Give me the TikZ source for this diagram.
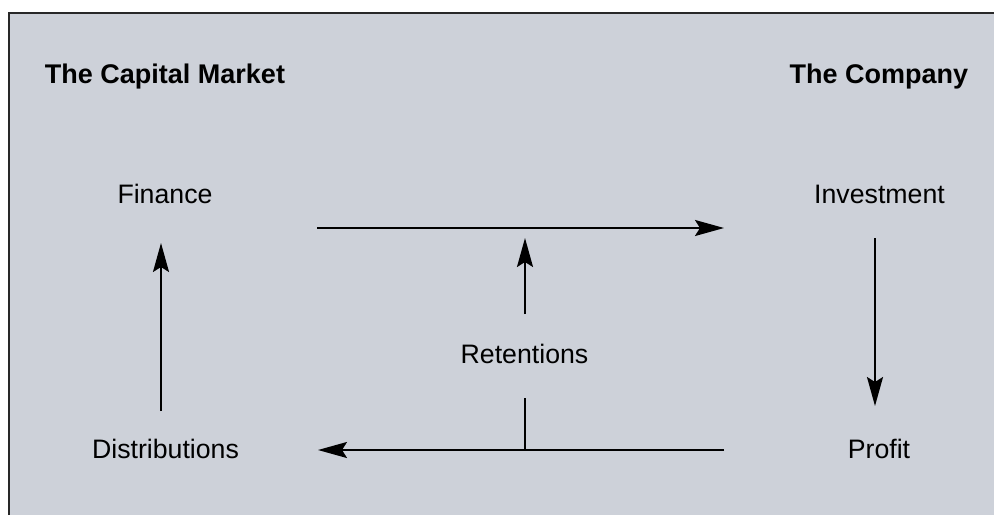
\documentclass[tikz,border=0pt]{standalone}
\usepackage{fontspec}
\setmainfont{Liberation Sans}
\usetikzlibrary{arrows.meta}
\definecolor{panel}{RGB}{205,209,217}
\definecolor{edge}{RGB}{40,40,40}
\begin{document}
\begin{tikzpicture}[x=1pt,y=-1pt,
  lbl/.style={anchor=base,inner sep=0pt,font=\fontsize{26.7}{32}\selectfont},
  head/.style={anchor=base,inner sep=0pt,font=\fontsize{27}{32}\selectfont\bfseries},
  flow/.style={line width=2pt,-{Stealth[length=29pt,width=16pt,inset=5pt]}},
  plain/.style={line width=2pt}]
\useasboundingbox (0,0) rectangle (994,515);
\fill[panel] (9,13) rectangle (994,515);
\draw[edge,line width=2pt] (9,515) -- (9,13) -- (994,13);
\node[head] (cm) at (165,83) {The Capital Market};
\node[head] (co) at (879,83) {The Company};
\node[lbl] (fin) at (165,203.5) {Finance};
\node[lbl] (inv) at (879.5,203.5) {Investment};
\node[lbl] (ret) at (524.5,363.5) {Retentions};
\node[lbl] (dis) at (165.5,458.5) {Distributions};
\node[lbl] (pro) at (879,458.5) {Profit};
\coordinate (t1) at (317,228);
\coordinate (t2) at (724,228);
\coordinate (r1) at (525,314);
\coordinate (r2) at (525,238);
\coordinate (l1) at (161,411);
\coordinate (l2) at (161,243);
\coordinate (v1) at (875,238);
\coordinate (v2) at (875,406);
\coordinate (b1) at (724,450);
\coordinate (b2) at (318,450);
\coordinate (k1) at (525,398);
\coordinate (k2) at (525,450);
\draw[flow] (t1) -- (t2);
\draw[flow] (r1) -- (r2);
\draw[flow] (l1) -- (l2);
\draw[flow] (v1) -- (v2);
\draw[flow] (b1) -- (b2);
\draw[plain] (k1) -- (k2);
\end{tikzpicture}
\end{document}
